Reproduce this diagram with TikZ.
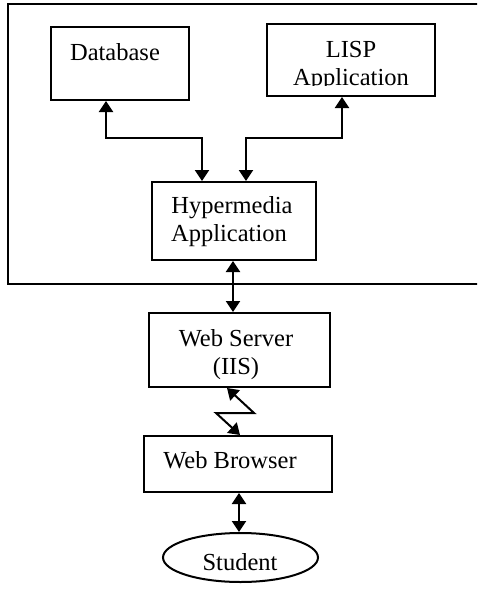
\documentclass[tikz,border=0pt]{standalone}
\usepackage{fontspec}
\setmainfont{Liberation Serif}
\usetikzlibrary{arrows.meta,shapes.geometric}
\begin{document}
\begin{tikzpicture}[x=1pt,y=-1pt,
  box/.style={draw,line width=2pt,rectangle,inner sep=0pt},
  lbl/.style={anchor=base,inner sep=0pt,font=\fontsize{24.5}{28}\selectfont},
  arr/.style={line width=2pt,{Triangle[width=14pt,length=11pt]}-{Triangle[width=14pt,length=11pt]}}]
\useasboundingbox (0,0) rectangle (477,592);
\clip (0,0) rectangle (477,592);
% outer system frame
\node[box,anchor=north west,minimum width=490pt,minimum height=280pt] (sys) at (7,3) {};
% boxes
\node[box,minimum width=138pt,minimum height=73pt] (db) at (120,63.5) {};
\node[box,minimum width=168pt,minimum height=72pt] (lisp) at (351,60) {};
\node[box,minimum width=164pt,minimum height=78pt] (hyp) at (234,221) {};
\node[box,minimum width=181pt,minimum height=74pt] (web) at (239.5,350) {};
\node[box,minimum width=188pt,minimum height=56pt] (br) at (238,464) {};
\node[draw,line width=2pt,ellipse,inner sep=0pt,minimum width=155pt,minimum height=49pt] (st) at (240.5,557.5) {};
% labels
\node[lbl] (tdb) at (115,60) {Database};
\node[lbl] (tlisp1) at (351,57) {LISP};
\begin{scope}
\clip (270,62) rectangle (432,85.5);
\node[lbl] (tlisp2) at (351,85) {Application};
\end{scope}
\node[lbl] (thyp1) at (232,213) {Hypermedia};
\node[lbl] (thyp2) at (229,241) {Application};
\node[lbl] (tweb1) at (236,346) {Web Server};
\node[lbl] (tweb2) at (236,374) {(IIS)};
\node[lbl] (tbr) at (230,468) {Web Browser};
\node[lbl] (tst) at (240,570) {Student};
% connectors
\draw[arr] ([xshift=56pt]db.south west) -- ++(0,37) -| ([xshift=51pt]hyp.north west);
\draw[arr] ([xshift=76pt]lisp.south west) -- ++(0,41) -| ([xshift=95pt]hyp.north west);
\draw[arr] ([xshift=-1pt]hyp.south) -- ([xshift=-1pt]hyp.south |- web.north);
\coordinate (z1) at (254,413);
\coordinate (z2) at (216,413);
\draw[arr,line join=miter] ([xshift=79pt]web.south west) -- (z1) -- (z2) -- ([xshift=97pt]br.north west);
\draw[arr] ([xshift=-1.5pt]st.north |- br.south) -- ([xshift=-1.5pt]st.north);
\end{tikzpicture}
\end{document}
